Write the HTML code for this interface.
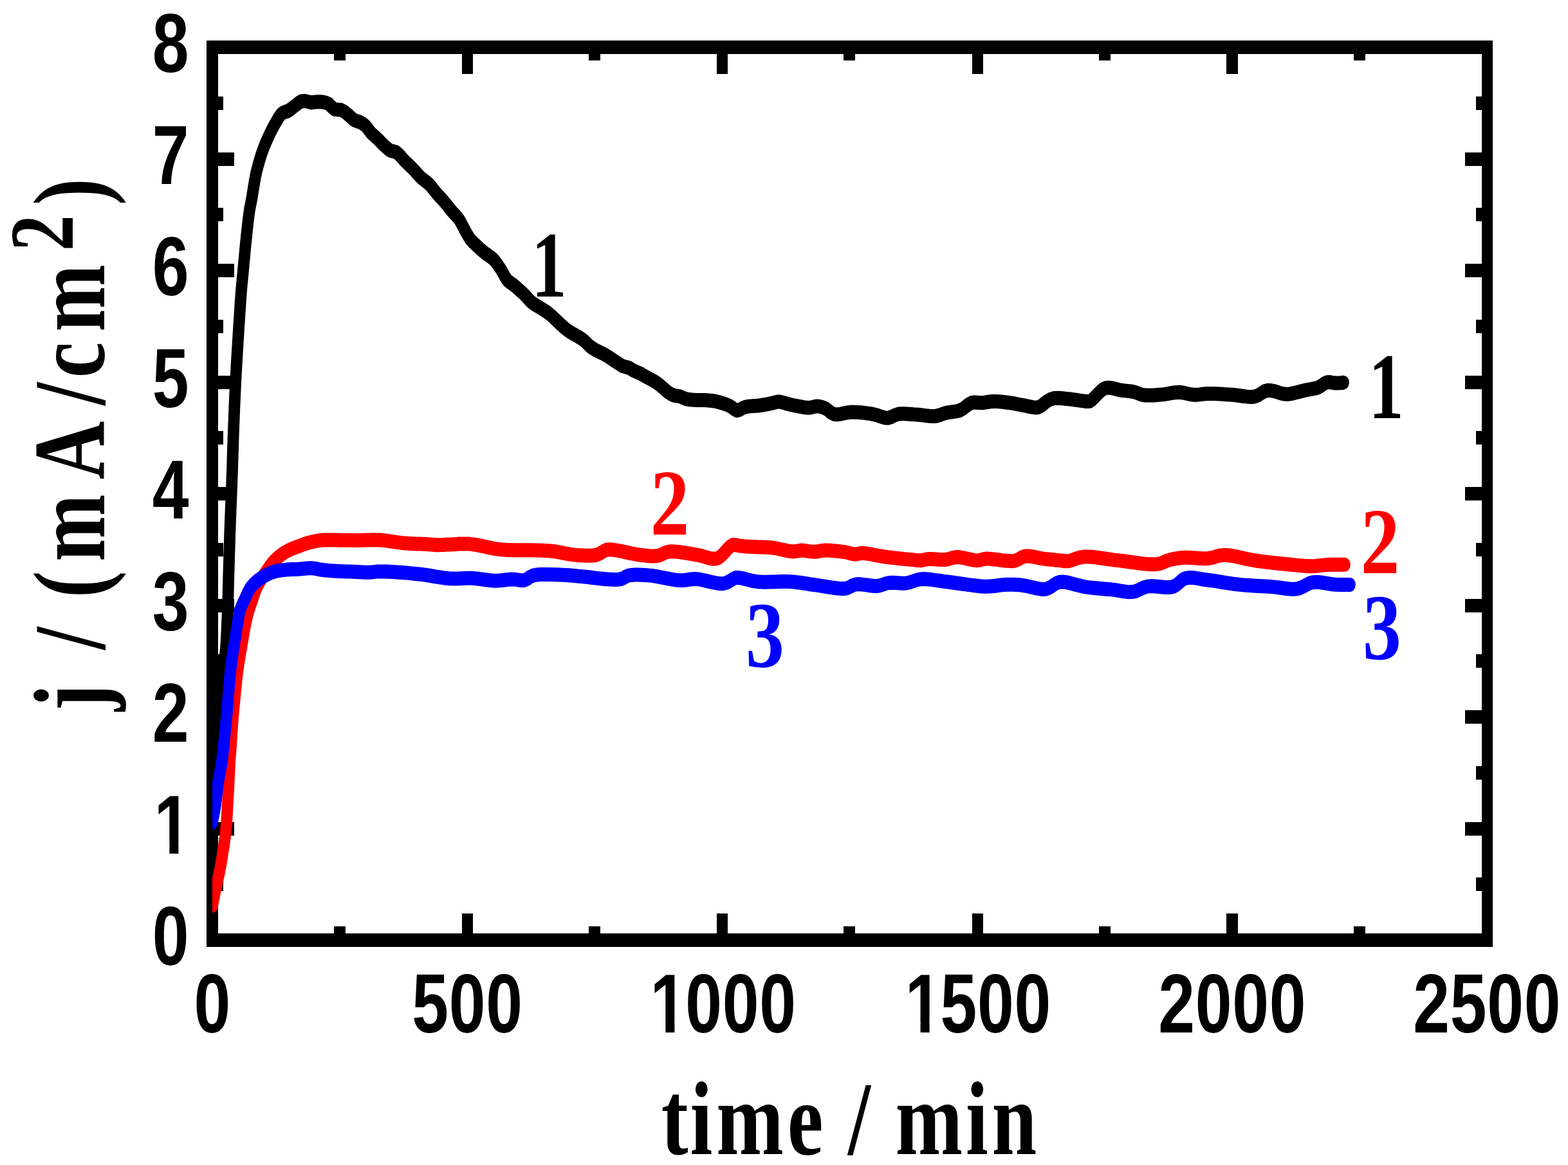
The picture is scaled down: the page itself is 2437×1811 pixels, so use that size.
<!DOCTYPE html>
<html lang="en"><head><meta charset="utf-8"><title>j vs time</title>
<style>html,body{margin:0;padding:0;background:#fff}svg{display:block}.tk{font-family:"Liberation Sans",Arial,Helvetica,sans-serif;font-weight:700;font-size:129.2px}.ax{font-family:"Liberation Serif","Times New Roman",Times,serif;font-weight:700;font-size:163px}.lb{font-family:"Liberation Serif","Times New Roman",Times,serif;font-size:146px}.b{font-weight:700}</style></head><body>
<svg width="2437" height="1811" viewBox="0 0 2437 1811">
<rect width="2437" height="1811" fill="#fff"/>
<g fill="#000" shape-rendering="crispEdges">
<rect x="321" y="63" width="18" height="1409"/>
<rect x="2303" y="63" width="17" height="1409"/>
<rect x="321" y="63" width="1999" height="21"/>
<rect x="321" y="1451" width="1999" height="21"/>
<rect x="519" y="84" width="18" height="10"/>
<rect x="519" y="1440" width="18" height="11"/>
<rect x="718" y="84" width="17" height="31"/>
<rect x="718" y="1420" width="17" height="31"/>
<rect x="915" y="84" width="18" height="10"/>
<rect x="915" y="1440" width="18" height="11"/>
<rect x="1114" y="84" width="17" height="31"/>
<rect x="1114" y="1420" width="17" height="31"/>
<rect x="1311" y="84" width="18" height="10"/>
<rect x="1311" y="1440" width="18" height="11"/>
<rect x="1511" y="84" width="17" height="31"/>
<rect x="1511" y="1420" width="17" height="31"/>
<rect x="1708" y="84" width="18" height="10"/>
<rect x="1708" y="1440" width="18" height="11"/>
<rect x="1906" y="84" width="18" height="31"/>
<rect x="1906" y="1420" width="18" height="31"/>
<rect x="2104" y="84" width="18" height="10"/>
<rect x="2104" y="1440" width="18" height="11"/>
<rect x="339" y="1364" width="8" height="21"/>
<rect x="2294" y="1364" width="9" height="21"/>
<rect x="339" y="1278" width="25" height="21"/>
<rect x="2277" y="1278" width="26" height="21"/>
<rect x="339" y="1191" width="8" height="21"/>
<rect x="2294" y="1191" width="9" height="21"/>
<rect x="339" y="1104" width="25" height="21"/>
<rect x="2277" y="1104" width="26" height="21"/>
<rect x="339" y="1017" width="8" height="21"/>
<rect x="2294" y="1017" width="9" height="21"/>
<rect x="339" y="931" width="25" height="21"/>
<rect x="2277" y="931" width="26" height="21"/>
<rect x="339" y="844" width="8" height="21"/>
<rect x="2294" y="844" width="9" height="21"/>
<rect x="339" y="757" width="25" height="21"/>
<rect x="2277" y="757" width="26" height="21"/>
<rect x="339" y="670" width="8" height="21"/>
<rect x="2294" y="670" width="9" height="21"/>
<rect x="339" y="584" width="25" height="21"/>
<rect x="2277" y="584" width="26" height="21"/>
<rect x="339" y="497" width="8" height="21"/>
<rect x="2294" y="497" width="9" height="21"/>
<rect x="339" y="410" width="25" height="21"/>
<rect x="2277" y="410" width="26" height="21"/>
<rect x="339" y="323" width="8" height="21"/>
<rect x="2294" y="323" width="9" height="21"/>
<rect x="339" y="237" width="25" height="21"/>
<rect x="2277" y="237" width="26" height="21"/>
<rect x="339" y="150" width="8" height="21"/>
<rect x="2294" y="150" width="9" height="21"/>
</g>
<defs><clipPath id="pc"><rect x="330" y="74" width="1981" height="1388"/></clipPath></defs>
<g clip-path="url(#pc)"><g transform="scale(0.80909,1)" fill="none" stroke-width="22" stroke-linejoin="round" stroke-linecap="round">
<polyline points="402.9,1300.0 403.1,1298.8 403.6,1295.5 404.4,1290.7 405.2,1284.7 406.2,1278.2 407.1,1271.4 407.9,1265.0 408.3,1261.0 408.7,1256.6 409.2,1252.1 409.6,1247.4 410.0,1242.5 410.5,1237.4 410.9,1232.2 411.3,1226.9 411.8,1221.6 412.2,1216.2 412.6,1210.8 413.0,1205.5 413.5,1200.2 413.9,1194.9 414.4,1189.8 414.8,1184.8 415.3,1180.0 415.8,1174.8 416.3,1169.6 416.9,1164.4 417.4,1159.2 418.0,1154.1 418.5,1149.0 419.1,1143.9 419.6,1138.9 420.2,1134.0 420.7,1129.2 421.2,1124.5 421.7,1119.9 422.2,1115.4 422.7,1111.0 423.3,1105.3 423.9,1099.9 424.5,1094.6 425.0,1089.4 425.6,1084.4 426.1,1079.6 426.6,1074.7 427.0,1070.0 427.5,1064.7 427.9,1059.5 428.3,1054.5 428.6,1049.5 429.0,1044.7 429.5,1040.0 430.1,1035.1 430.7,1030.3 431.4,1025.6 432.0,1021.1 432.6,1017.0 433.1,1012.7 433.6,1008.9 434.1,1004.0 434.4,1000.5 434.7,996.4 435.0,991.9 435.3,987.0 435.6,981.8 435.9,976.5 436.2,971.0 436.5,965.5 436.8,960.1 437.0,954.8 437.3,949.7 437.5,944.8 437.7,939.9 437.9,935.1 438.0,930.3 438.2,925.4 438.3,920.6 438.5,915.7 438.6,910.7 438.8,905.7 439.0,900.5 439.1,895.3 439.3,890.8 439.5,886.1 439.6,881.4 439.8,876.7 440.0,871.8 440.1,867.0 440.3,862.1 440.5,857.1 440.7,852.2 440.9,847.2 441.1,842.3 441.3,837.3 441.4,832.4 441.6,827.5 441.9,822.6 442.1,817.8 442.3,813.0 442.5,808.1 442.7,803.4 443.0,798.6 443.2,793.8 443.4,789.0 443.7,784.2 443.9,779.4 444.2,774.5 444.4,769.7 444.6,764.8 444.9,759.9 445.1,755.0 445.3,750.0 445.5,745.0 445.7,739.9 446.0,734.8 446.2,729.7 446.4,724.5 446.6,719.4 446.8,714.2 447.0,708.9 447.2,703.7 447.4,698.5 447.6,693.4 447.8,688.2 448.0,683.1 448.2,678.0 448.4,672.9 448.7,667.9 448.9,662.9 449.1,658.0 449.4,653.1 449.6,648.2 449.8,643.4 450.1,638.5 450.3,633.7 450.6,628.9 450.8,624.1 451.1,619.3 451.3,614.5 451.6,609.7 451.9,604.9 452.2,600.1 452.5,595.3 452.8,590.5 453.1,585.6 453.4,580.8 453.7,575.9 454.1,571.1 454.4,566.2 454.8,561.4 455.1,556.5 455.5,551.7 455.8,546.8 456.2,542.0 456.6,537.1 456.9,532.3 457.3,527.4 457.7,522.6 458.1,517.7 458.4,512.7 458.8,507.6 459.2,502.5 459.7,497.3 460.1,492.2 460.5,487.0 460.9,481.9 461.3,476.9 461.7,472.0 462.1,467.3 462.5,462.7 462.9,458.2 463.3,454.0 463.7,450.0 464.4,443.9 465.0,438.5 465.6,433.4 466.2,428.4 466.8,423.2 467.4,417.7 468.0,413.0 468.5,408.1 469.1,403.2 469.7,398.1 470.3,393.0 470.9,387.8 471.5,382.6 472.1,377.5 472.8,372.4 473.4,367.2 474.1,361.9 474.8,356.5 475.6,351.0 476.3,345.7 477.1,340.5 477.8,335.6 478.6,331.1 479.3,327.0 480.3,322.2 481.3,318.3 482.3,314.3 483.4,309.7 484.3,305.6 485.2,300.9 486.2,295.9 487.2,290.7 488.3,285.5 489.3,280.5 490.4,275.8 491.4,271.6 492.8,266.5 494.3,261.9 495.7,257.5 497.2,253.1 498.7,248.9 500.2,244.8 501.8,240.6 503.7,236.2 505.5,232.2 507.5,227.9 509.7,223.5 512.0,219.1 514.4,214.8 516.8,210.6 519.5,206.0 522.3,201.4 525.2,197.0 528.1,192.7 531.0,188.8 534.6,183.8 538.3,179.3 542.3,175.8 547.5,174.0 553.1,172.5 558.3,169.7 563.7,166.3 568.7,163.2 573.8,159.9 578.7,157.5 586.1,157.0 592.5,158.2 598.9,159.4 606.4,158.4 612.9,158.2 619.8,158.6 625.7,159.6 631.2,161.4 636.5,165.7 642.0,169.7 648.3,170.4 654.8,170.8 660.6,173.2 666.2,176.6 671.1,180.0 676.1,183.9 681.0,186.9 686.5,188.5 691.8,189.9 697.4,192.5 702.6,195.9 706.9,200.3 711.3,205.2 716.2,209.2 721.7,213.2 726.9,217.1 730.8,220.3 734.4,223.4 738.2,226.4 742.2,229.3 746.2,232.1 750.3,234.2 755.6,235.2 761.0,236.5 765.2,239.2 769.5,242.8 773.8,246.9 778.0,250.6 783.2,254.6 788.2,258.5 793.2,262.5 797.0,265.8 800.7,269.2 804.4,272.6 808.3,275.8 812.5,278.7 816.8,281.4 821.1,284.1 825.1,287.0 829.8,291.3 834.1,295.8 838.6,300.3 842.3,303.7 846.2,307.1 850.1,310.6 853.8,314.0 858.4,318.5 862.8,323.1 867.3,327.6 872.1,331.9 877.0,336.1 881.5,340.5 885.1,345.3 888.3,350.4 891.6,355.5 894.4,359.6 897.3,363.9 900.3,368.0 903.5,371.8 907.7,375.7 912.2,379.2 916.8,382.7 921.5,386.2 926.2,389.6 931.2,393.0 936.8,396.3 942.5,399.5 948.0,403.2 951.9,406.7 955.5,410.6 958.9,414.7 962.3,418.8 965.5,423.2 968.6,427.9 971.6,432.3 974.9,435.9 980.1,439.3 985.9,442.5 990.0,445.2 994.5,448.4 999.1,451.8 1003.7,455.2 1007.8,458.4 1012.6,462.6 1017.0,466.6 1021.3,470.0 1026.4,472.9 1031.4,475.4 1036.3,477.7 1041.4,480.2 1045.8,482.5 1050.4,485.0 1054.9,487.7 1059.4,490.8 1063.9,494.2 1068.4,497.6 1072.8,501.0 1077.3,504.5 1081.8,507.8 1086.3,510.8 1090.8,513.7 1095.3,516.3 1101.2,519.0 1107.2,521.7 1112.2,524.1 1117.5,526.8 1122.2,529.6 1127.4,533.7 1132.4,537.8 1138.1,541.2 1144.1,544.2 1150.8,546.8 1157.6,549.4 1162.2,551.4 1166.7,553.6 1171.1,555.8 1176.9,559.0 1182.8,562.3 1187.2,564.7 1191.8,567.1 1196.3,569.1 1202.4,570.5 1208.1,571.8 1212.3,573.8 1216.6,575.9 1223.4,578.3 1230.0,580.6 1236.7,583.7 1243.3,586.7 1250.2,589.8 1255.3,592.0 1260.3,594.3 1266.2,597.9 1272.0,601.8 1276.0,604.6 1279.9,607.5 1283.8,610.0 1288.8,612.6 1293.9,614.6 1299.7,615.4 1305.7,616.1 1311.4,618.1 1317.5,620.2 1323.1,621.0 1329.1,621.5 1334.8,621.8 1341.1,621.9 1347.7,621.9 1352.6,622.1 1358.1,622.3 1364.0,622.7 1369.9,623.2 1375.6,624.0 1381.5,625.2 1387.6,626.7 1393.5,628.3 1399.1,630.1 1403.8,631.9 1409.6,635.6 1415.0,638.2 1420.2,637.2 1425.7,634.7 1431.9,632.6 1437.0,631.8 1442.5,631.4 1448.3,631.1 1454.2,630.8 1459.9,630.3 1465.9,629.5 1472.1,628.6 1478.2,627.6 1483.6,626.6 1488.0,625.8 1494.3,624.4 1498.9,624.8 1504.8,625.9 1511.5,627.5 1518.3,629.0 1524.8,630.2 1531.1,631.2 1537.6,632.2 1544.0,633.1 1550.1,633.7 1555.4,633.8 1562.6,632.5 1569.3,631.4 1574.8,631.9 1580.4,633.2 1586.0,635.0 1591.3,638.0 1596.6,641.6 1602.7,644.0 1608.4,644.3 1614.9,643.6 1621.8,642.3 1628.9,641.2 1636.0,640.6 1641.8,640.7 1647.8,640.9 1654.0,641.3 1660.2,641.9 1666.3,642.5 1672.2,643.2 1677.7,644.0 1683.7,645.2 1689.6,646.8 1695.1,648.4 1700.5,649.5 1705.6,649.8 1712.1,648.3 1718.2,645.7 1725.0,643.7 1730.4,643.2 1736.2,643.2 1742.4,643.4 1748.7,643.8 1755.1,644.3 1761.2,644.6 1767.4,645.0 1773.6,645.6 1779.9,646.3 1786.0,646.8 1791.8,647.1 1797.1,646.9 1804.0,645.6 1810.2,643.7 1816.9,641.9 1822.1,641.1 1827.8,640.5 1833.6,639.9 1839.2,639.0 1844.5,637.7 1850.4,635.0 1855.9,631.5 1861.3,628.2 1866.8,626.0 1873.1,625.5 1879.5,625.9 1886.1,626.2 1891.4,625.7 1896.8,625.0 1902.4,624.3 1908.3,624.0 1914.6,624.1 1921.3,624.4 1928.2,625.0 1935.1,625.7 1941.7,626.4 1947.5,627.2 1953.1,628.1 1958.7,629.0 1964.2,629.9 1969.6,630.7 1976.1,631.8 1982.6,632.9 1988.8,633.6 1994.6,633.2 2000.6,630.7 2005.9,627.0 2011.3,623.7 2017.9,620.8 2025.2,619.0 2031.4,618.7 2038.4,619.0 2045.8,619.7 2052.9,620.3 2058.7,620.8 2064.6,621.5 2070.5,622.2 2076.0,622.9 2080.9,623.3 2087.1,624.1 2093.1,623.7 2097.5,621.6 2102.3,617.9 2107.4,613.5 2112.7,609.1 2118.1,605.4 2123.6,603.2 2129.6,602.6 2135.8,603.2 2142.1,604.4 2148.3,605.8 2154.3,606.8 2160.8,607.4 2167.1,607.9 2173.2,608.5 2179.0,609.3 2184.7,610.8 2189.9,612.7 2195.9,614.0 2201.8,614.5 2208.4,614.6 2215.3,614.4 2222.4,614.0 2229.3,613.6 2235.3,613.1 2241.4,612.3 2247.6,611.4 2253.8,610.5 2259.7,610.0 2265.5,609.8 2271.3,610.3 2276.8,611.2 2282.3,612.3 2287.7,613.3 2293.2,613.8 2298.6,613.8 2304.0,613.4 2309.4,612.8 2315.1,612.3 2321.1,612.0 2326.4,612.0 2332.1,612.1 2338.0,612.3 2344.0,612.5 2350.1,612.8 2356.2,613.2 2362.3,613.5 2368.1,613.8 2374.3,614.3 2380.6,615.0 2386.9,615.7 2393.1,616.4 2399.1,616.9 2404.8,617.0 2410.1,616.5 2416.7,614.5 2422.6,611.5 2428.4,608.5 2434.8,606.8 2440.4,606.9 2446.3,607.8 2452.5,609.3 2458.8,610.9 2465.0,612.2 2471.2,612.7 2477.3,612.4 2483.5,611.5 2489.6,610.3 2495.7,609.0 2501.6,607.7 2507.3,606.6 2514.0,605.6 2520.5,604.7 2526.6,603.7 2532.3,602.3 2538.2,599.5 2543.6,596.3 2549.0,594.2 2554.5,594.1 2560.2,595.0 2565.7,595.6 2575.1,595.2 2580.7,594.7" stroke="#000"/>
<polyline points="407.9,1408.0 408.7,1404.4 410.3,1398.0 411.3,1393.8 412.4,1389.2 413.6,1384.4 414.8,1379.7 416.0,1375.3 417.3,1371.0 418.6,1366.5 420.0,1361.5 421.1,1357.0 422.3,1352.0 423.5,1346.8 424.7,1341.4 425.8,1335.9 427.0,1330.5 428.0,1325.2 429.0,1320.0 430.0,1314.9 430.9,1309.7 431.8,1304.5 432.6,1299.4 433.4,1294.2 434.1,1289.0 434.7,1283.8 435.2,1278.6 435.6,1273.4 436.0,1268.2 436.3,1263.0 436.7,1257.8 437.0,1252.6 437.4,1247.4 437.8,1242.2 438.1,1237.0 438.5,1231.9 438.8,1226.7 439.2,1221.5 439.5,1216.3 439.8,1211.0 440.2,1205.4 440.5,1199.8 440.8,1194.4 441.1,1189.1 441.4,1184.3 441.7,1180.0 442.2,1175.3 442.6,1171.2 443.1,1166.2 443.4,1162.6 443.8,1158.6 444.1,1154.1 444.5,1149.3 444.9,1144.3 445.4,1139.0 445.8,1133.6 446.3,1128.1 446.8,1122.5 447.4,1117.1 447.9,1111.7 448.4,1106.8 449.0,1101.8 449.6,1096.6 450.2,1091.3 450.8,1086.0 451.4,1080.6 452.1,1075.2 452.8,1069.8 453.5,1064.5 454.1,1059.4 454.8,1054.3 455.5,1049.5 456.2,1044.9 456.9,1040.5 457.9,1034.7 458.9,1029.2 460.0,1024.1 461.0,1019.1 462.1,1014.2 463.1,1009.3 464.2,1004.2 465.3,998.9 466.4,993.5 467.6,988.0 468.7,982.6 469.9,977.4 471.0,972.4 472.1,967.9 473.5,962.9 474.8,958.4 476.2,954.1 477.7,949.7 479.4,945.2 481.3,940.6 483.2,936.1 485.1,931.6 486.9,927.1 488.7,922.6 490.7,918.1 493.1,913.4 496.0,908.8 499.2,904.0 502.7,899.2 506.3,894.5 510.0,890.0 513.3,885.9 516.7,882.0 520.2,878.1 523.9,874.4 527.9,871.0 532.0,867.8 536.4,864.8 541.0,862.0 545.7,859.4 550.4,857.1 555.9,854.8 561.4,852.8 567.1,851.1 572.7,849.4 578.3,847.7 583.9,846.0 589.6,844.5 595.2,843.2 600.8,842.1 606.4,841.1 612.0,840.4 617.6,839.8 623.0,839.5 628.4,839.5 633.9,839.6 640.1,839.6 645.7,839.6 651.8,839.7 658.3,839.7 664.9,839.8 671.7,839.8 678.4,839.9 685.0,839.9 691.4,839.8 697.8,839.7 704.2,839.6 710.6,839.4 717.0,839.3 723.4,839.4 729.8,839.6 736.2,840.0 742.7,840.6 749.1,841.4 755.5,842.2 761.9,842.9 768.3,843.6 774.7,844.2 781.2,844.6 788.0,844.9 794.7,845.2 801.4,845.4 807.9,845.6 813.9,845.8 819.4,846.0 827.0,846.5 833.6,846.9 840.4,847.2 846.2,847.1 852.1,846.9 858.1,846.6 864.6,846.4 870.2,846.2 876.0,845.9 882.0,845.6 888.3,845.4 894.8,845.4 901.6,845.6 907.1,846.1 912.8,846.7 918.7,847.6 924.8,848.6 930.9,849.7 937.2,850.8 943.6,851.8 950.0,852.8 956.4,853.6 962.8,854.2 968.7,854.6 974.9,854.9 981.2,855.1 987.6,855.2 994.1,855.3 1000.6,855.3 1007.0,855.3 1013.2,855.3 1019.2,855.3 1024.8,855.3 1030.1,855.4 1035.0,855.5 1041.3,855.7 1046.8,855.9 1051.9,856.2 1057.1,856.5 1062.9,857.0 1068.8,857.7 1075.0,858.6 1081.4,859.6 1088.0,860.6 1094.6,861.6 1101.1,862.4 1107.4,862.9 1114.2,863.3 1121.1,863.6 1127.9,863.8 1134.5,863.7 1140.6,863.3 1146.2,862.5 1151.7,860.8 1156.4,858.4 1161.0,856.1 1165.8,854.6 1171.9,854.2 1178.1,854.8 1185.2,855.7 1190.6,856.4 1196.7,857.4 1203.3,858.6 1210.1,859.8 1216.9,860.9 1223.5,862.0 1229.7,862.7 1236.7,863.4 1243.7,864.0 1250.4,864.4 1256.9,864.4 1263.0,864.0 1268.7,862.7 1273.8,860.7 1279.1,858.7 1285.3,857.5 1290.4,857.3 1296.1,857.4 1302.3,857.9 1308.9,858.5 1315.6,859.4 1322.3,860.3 1328.9,861.2 1335.1,862.1 1340.9,862.9 1347.4,864.0 1353.7,865.6 1359.8,867.1 1365.7,868.3 1371.3,868.8 1376.9,868.3 1381.7,866.4 1386.4,863.3 1391.0,859.5 1395.4,855.5 1399.6,851.7 1403.7,848.7 1407.5,847.0 1414.3,847.2 1421.3,848.6 1426.7,849.0 1432.7,849.4 1439.2,849.7 1445.7,850.0 1452.0,850.3 1458.0,850.5 1464.0,850.6 1470.0,850.7 1476.1,850.9 1482.5,851.3 1488.3,852.0 1494.6,853.0 1501.1,854.2 1507.6,855.3 1513.7,856.4 1519.3,857.1 1524.2,857.4 1531.3,856.6 1538.1,855.6 1543.2,855.8 1548.9,856.4 1554.9,857.1 1560.7,857.6 1566.0,857.8 1571.6,857.2 1576.7,856.2 1582.6,855.6 1588.3,855.6 1594.8,855.8 1601.8,856.2 1608.8,856.7 1615.5,857.4 1621.6,858.0 1627.8,859.0 1633.6,860.2 1638.9,861.2 1643.8,861.6 1649.2,860.7 1654.9,859.8 1659.7,860.0 1665.3,860.6 1671.7,861.4 1678.5,862.5 1685.5,863.6 1692.6,864.6 1699.4,865.5 1705.5,866.1 1712.1,866.8 1718.9,867.4 1725.8,868.0 1732.5,868.6 1739.0,869.1 1745.1,869.6 1750.5,870.0 1755.1,870.4 1762.6,871.1 1768.9,871.3 1775.4,870.2 1782.7,869.0 1788.6,869.0 1795.4,869.3 1802.6,869.8 1809.7,870.1 1816.1,870.0 1821.9,869.1 1827.1,867.8 1832.5,866.6 1838.4,866.0 1844.4,866.3 1851.1,867.3 1858.2,868.6 1865.1,869.9 1871.6,870.9 1877.3,871.3 1883.0,870.6 1887.9,869.4 1894.0,868.6 1898.9,868.6 1904.7,869.0 1911.2,869.6 1918.1,870.3 1925.1,871.1 1932.1,871.7 1938.6,872.1 1944.6,872.2 1949.6,871.8 1956.6,869.6 1962.3,866.6 1968.9,864.6 1974.2,864.4 1980.1,864.8 1986.3,865.7 1992.6,866.8 1999.0,867.8 2005.1,868.6 2011.1,869.2 2017.2,869.7 2023.4,870.2 2029.2,870.7 2034.6,871.1 2039.3,871.5 2045.4,872.2 2051.3,872.3 2056.4,871.5 2062.0,869.9 2068.1,868.1 2074.8,866.5 2081.8,865.6 2087.3,865.4 2093.1,865.6 2099.2,865.9 2105.5,866.5 2112.1,867.2 2118.8,868.0 2125.7,868.8 2132.5,869.6 2139.4,870.4 2146.1,871.0 2152.4,871.6 2159.0,872.3 2165.8,873.0 2172.7,873.8 2179.7,874.6 2186.6,875.4 2193.4,876.1 2200.0,876.6 2206.3,877.1 2212.2,877.3 2217.6,877.3 2222.5,877.0 2229.6,875.8 2235.5,873.9 2241.0,871.9 2247.0,870.3 2252.2,869.3 2257.5,868.5 2262.9,867.8 2268.5,867.2 2274.5,866.8 2280.5,866.7 2287.0,866.9 2293.9,867.3 2300.8,867.7 2307.6,868.1 2314.2,868.2 2320.4,868.0 2326.8,867.2 2332.6,865.9 2338.3,864.5 2344.3,863.4 2351.0,862.9 2356.3,863.0 2361.9,863.5 2367.8,864.2 2373.9,865.2 2380.2,866.2 2386.6,867.4 2393.1,868.6 2399.5,869.7 2405.9,870.7 2412.1,871.5 2418.2,872.2 2424.4,872.9 2430.7,873.5 2437.0,874.1 2443.2,874.7 2449.4,875.2 2455.5,875.8 2461.6,876.3 2467.5,876.7 2473.3,877.2 2480.2,877.8 2487.1,878.4 2493.9,878.9 2500.5,879.4 2506.9,879.9 2513.1,880.1 2519.1,880.2 2525.6,880.0 2531.8,879.5 2537.7,878.9 2543.7,878.4 2549.8,878.0 2557.4,877.8 2566.2,877.7 2574.5,877.7 2580.7,877.7 2583.1,877.7" stroke="#f00"/>
<polyline points="407.9,1278.0 408.3,1276.2 409.4,1271.7 410.9,1265.5 412.4,1258.8 413.7,1252.6 414.5,1247.8 415.3,1242.7 416.1,1237.5 416.8,1232.2 417.5,1226.9 418.3,1221.5 419.2,1216.3 420.3,1211.0 421.4,1205.4 422.7,1199.8 423.9,1194.4 425.1,1189.1 426.1,1184.3 426.9,1180.0 427.6,1175.3 428.1,1171.2 428.8,1166.2 429.2,1162.6 429.7,1158.6 430.3,1154.1 430.9,1149.3 431.6,1144.3 432.2,1139.0 432.9,1133.6 433.6,1128.1 434.3,1122.5 434.9,1117.1 435.6,1111.7 436.1,1106.9 436.6,1101.8 437.2,1096.6 437.7,1091.4 438.2,1086.0 438.7,1080.6 439.2,1075.2 439.8,1069.8 440.3,1064.6 440.8,1059.4 441.4,1054.3 441.9,1049.5 442.5,1044.9 443.1,1040.5 443.9,1034.7 444.8,1029.2 445.7,1024.1 446.6,1019.1 447.5,1014.2 448.4,1009.3 449.4,1004.2 450.4,998.9 451.4,993.5 452.5,988.0 453.6,982.6 454.6,977.4 455.6,972.4 456.6,967.9 457.5,962.9 458.3,958.4 459.2,954.1 460.5,949.7 462.4,945.1 464.8,940.6 467.3,936.1 470.0,931.6 472.3,927.6 474.6,923.4 477.0,919.3 479.8,915.3 483.0,911.6 486.9,908.1 491.2,904.9 495.8,901.8 500.6,899.0 505.4,896.5 510.9,894.0 516.5,891.8 522.1,889.9 527.9,888.4 533.4,887.3 539.1,886.6 544.7,886.1 550.4,885.6 555.9,885.3 561.4,885.1 567.0,884.9 572.7,884.7 579.4,884.3 586.4,883.7 593.3,883.3 599.7,883.3 605.9,883.9 611.6,884.9 617.6,885.8 622.9,886.3 628.2,886.7 633.9,887.1 640.1,887.4 645.8,887.7 652.2,887.9 659.1,888.2 666.0,888.4 672.8,888.6 679.2,888.8 685.0,889.0 691.1,889.3 696.7,889.6 702.0,889.8 707.5,889.8 712.9,889.6 718.2,889.1 723.7,888.6 729.8,888.4 735.4,888.4 741.5,888.5 748.0,888.8 754.7,889.1 761.4,889.4 768.2,889.8 774.7,890.2 781.3,890.6 788.0,891.1 794.8,891.7 801.5,892.2 808.0,892.8 814.0,893.4 819.6,894.0 827.0,895.0 833.6,896.0 840.4,896.9 845.7,897.5 851.1,898.2 856.7,898.8 862.4,899.3 868.3,899.6 873.9,899.6 879.8,899.5 885.7,899.2 891.8,898.9 898.0,898.7 904.3,898.7 910.0,899.0 915.9,899.5 922.0,900.1 928.1,900.8 934.3,901.5 940.3,902.1 946.1,902.5 951.7,902.7 958.8,902.5 965.8,902.0 972.5,901.3 978.9,900.7 985.1,900.5 991.0,900.9 996.7,901.7 1002.2,902.3 1007.3,902.0 1012.7,900.0 1017.7,897.0 1023.9,894.6 1028.8,893.8 1034.4,893.3 1040.7,893.0 1047.3,892.9 1054.1,893.0 1060.9,893.2 1067.6,893.3 1073.9,893.5 1080.4,893.7 1086.8,894.0 1093.0,894.3 1099.3,894.8 1105.6,895.2 1111.9,895.7 1118.4,896.2 1124.7,896.7 1131.1,897.3 1137.7,898.0 1144.3,898.6 1150.8,899.3 1157.1,899.8 1163.0,900.2 1168.5,900.5 1175.5,900.7 1182.0,900.9 1188.0,900.7 1193.4,900.0 1198.2,898.4 1202.3,896.3 1207.4,894.6 1212.6,893.9 1218.5,893.6 1225.1,893.5 1232.0,893.7 1239.1,894.0 1246.3,894.4 1252.0,894.9 1258.1,895.6 1264.4,896.5 1271.0,897.6 1277.6,898.6 1284.1,899.7 1290.5,900.6 1296.6,901.4 1302.3,902.0 1307.5,902.3 1313.6,902.1 1319.0,901.5 1324.0,900.8 1329.3,900.2 1335.3,900.0 1340.8,900.4 1346.9,901.2 1353.4,902.4 1360.2,903.6 1366.9,904.9 1373.6,906.0 1379.9,906.9 1385.7,907.2 1390.8,907.0 1397.4,905.2 1403.3,902.4 1408.5,899.7 1413.1,898.0 1421.3,898.3 1425.5,898.9 1430.4,899.9 1435.9,901.1 1441.9,902.3 1448.2,903.4 1454.7,904.2 1460.3,904.6 1466.4,904.7 1472.8,904.7 1479.4,904.6 1486.2,904.4 1493.0,904.2 1499.8,904.0 1506.4,904.0 1512.7,904.0 1518.6,904.2 1525.0,904.6 1531.0,905.2 1536.8,905.8 1542.6,906.5 1548.3,907.2 1554.2,908.0 1560.4,908.7 1566.4,909.4 1573.0,910.2 1579.9,911.1 1586.8,912.0 1593.7,912.9 1600.2,913.7 1606.2,914.3 1611.5,914.8 1615.9,915.0 1621.9,915.0 1627.0,914.3 1632.1,912.5 1637.5,910.1 1643.8,908.4 1648.9,908.1 1654.7,908.4 1661.0,909.1 1667.5,909.8 1674.0,910.5 1680.1,911.0 1685.5,910.9 1691.4,910.0 1696.7,908.5 1702.0,907.0 1707.7,906.0 1714.0,905.8 1720.7,906.0 1727.7,906.4 1734.5,906.7 1741.1,906.4 1746.8,905.5 1752.1,904.0 1757.5,902.5 1763.0,901.1 1768.9,900.3 1774.3,900.1 1780.0,900.3 1785.8,900.8 1791.8,901.4 1798.0,902.1 1804.2,902.8 1810.6,903.5 1816.5,904.1 1822.7,904.8 1829.2,905.5 1835.8,906.2 1842.3,907.0 1848.7,907.7 1854.9,908.4 1860.8,909.1 1866.2,909.6 1872.2,910.2 1877.7,910.8 1882.9,911.3 1888.2,911.7 1894.0,911.8 1899.6,911.6 1905.5,911.2 1911.7,910.7 1917.9,910.0 1924.1,909.4 1930.0,908.9 1935.6,908.7 1941.5,908.7 1946.9,908.7 1952.2,908.9 1957.6,909.3 1963.4,909.8 1969.2,910.5 1975.6,911.6 1982.3,912.9 1988.9,914.1 1995.1,915.2 2000.6,915.9 2005.1,916.1 2010.1,915.5 2014.6,914.1 2019.2,912.0 2024.1,909.1 2029.7,906.4 2036.0,904.7 2041.1,904.5 2046.7,905.0 2052.7,905.9 2059.1,907.2 2065.6,908.7 2072.2,910.1 2078.7,911.4 2085.1,912.4 2091.5,913.1 2098.1,913.7 2104.7,914.3 2111.3,914.8 2117.9,915.2 2124.4,915.7 2130.8,916.1 2137.0,916.6 2144.0,917.3 2150.8,918.3 2157.6,919.2 2164.1,919.9 2170.4,920.3 2176.5,920.0 2182.3,918.9 2187.6,917.0 2192.8,914.9 2198.2,913.0 2204.2,911.6 2209.7,911.2 2215.8,911.3 2222.3,911.7 2229.0,912.3 2235.6,912.8 2241.9,913.1 2247.9,912.9 2253.1,912.1 2258.6,910.0 2263.3,907.0 2267.7,903.7 2272.3,900.7 2277.6,898.8 2282.9,898.1 2288.6,898.0 2294.5,898.4 2300.8,899.2 2307.2,900.1 2313.8,901.0 2320.4,901.7 2326.1,902.3 2331.9,902.9 2337.9,903.7 2344.1,904.5 2350.3,905.3 2356.6,906.1 2362.9,906.9 2369.1,907.7 2375.4,908.3 2381.6,908.9 2387.7,909.4 2393.9,909.8 2400.1,910.1 2406.3,910.4 2412.6,910.7 2418.8,911.0 2424.9,911.2 2430.9,911.5 2436.9,911.8 2442.7,912.1 2449.2,912.6 2455.7,913.3 2462.1,914.0 2468.4,914.7 2474.5,915.3 2480.5,915.7 2486.2,915.7 2491.7,915.3 2498.2,913.8 2504.2,911.5 2510.0,908.9 2515.8,906.6 2522.2,905.2 2528.0,904.9 2534.1,905.1 2540.4,905.8 2546.8,906.6 2553.2,907.5 2559.3,908.2 2565.0,908.7 2571.9,908.9 2579.3,909.0 2586.1,909.0 2591.1,908.9 2593.0,908.9" stroke="#00f"/>
</g></g>
<text class="tk" transform="translate(301.62,1605.0) scale(0.7900,1)" x="0.00">0</text>
<text class="tk" transform="translate(640.32,1605.0) scale(0.7900,1)" x="0.00 72.78 145.57">500</text>
<text class="tk" transform="translate(1010.57,1605.0) scale(0.7900,1)" x="0.00 69.24 142.03 214.81">1000</text>
<text class="tk" transform="translate(1406.77,1605.0) scale(0.7900,1)" x="0.00 69.24 142.03 214.81">1500</text>
<text class="tk" transform="translate(1800.17,1605.0) scale(0.7900,1)" x="0.00 72.78 145.57 218.35">2000</text>
<text class="tk" transform="translate(2196.37,1605.0) scale(0.7900,1)" x="0.00 72.78 145.57 218.35">2500</text>
<text class="tk" transform="translate(236.77,1500.0) scale(0.7900,1)" x="0.00">0</text>
<text class="tk" transform="translate(239.57,1326.5) scale(0.7900,1)" x="0.00">1</text>
<text class="tk" transform="translate(236.77,1153.0) scale(0.7900,1)" x="0.00">2</text>
<text class="tk" transform="translate(236.77,979.5) scale(0.7900,1)" x="0.00">3</text>
<text class="tk" transform="translate(236.77,806.0) scale(0.7900,1)" x="0.00">4</text>
<text class="tk" transform="translate(236.77,632.5) scale(0.7900,1)" x="0.00">5</text>
<text class="tk" transform="translate(236.77,459.0) scale(0.7900,1)" x="0.00">6</text>
<text class="tk" transform="translate(236.77,285.5) scale(0.7900,1)" x="0.00">7</text>
<text class="tk" transform="translate(236.77,112.0) scale(0.7900,1)" x="0.00">8</text>
<g fill="#fff"><rect x="1013.6" y="1590.3" width="20.8" height="16.7"/><rect x="1048.4" y="1590.3" width="19.3" height="16.7"/><rect x="1409.8" y="1590.3" width="20.8" height="16.7"/><rect x="1444.6" y="1590.3" width="19.3" height="16.7"/><rect x="242.6" y="1311.8" width="20.8" height="16.7"/><rect x="277.4" y="1311.8" width="19.3" height="16.7"/></g>
<text class="ax" transform="translate(1027.7,1794) scale(0.7700,1)" x="0.0 58.3 111.0 254.5 327.7 377.0 425.1 472.6 614.7 667.4">time / min</text>
<text class="ax" transform="translate(161.5,1110) rotate(-90) scale(0.7700,0.97)" x="5.7 64.9 130.2 194.8 234.9 308.1 473.7 623.7 678.9 772.2 934.7 1027.3">j / (mA/cm<tspan dy="-50" font-size="146">2</tspan><tspan dy="50">)</tspan></text>
<text class="lb b" fill="#000" transform="translate(826.3,461.2) scale(0.7450,1)">1</text>
<text class="lb b" fill="#000" transform="translate(2127.3,649.6) scale(0.7450,1)">1</text>
<text class="lb b" fill="#f00" transform="translate(1010.7,831.2) scale(0.8300,1)">2</text>
<text class="lb b" fill="#f00" transform="translate(2114.8,890.8) scale(0.8300,1)">2</text>
<text class="lb b" fill="#00f" transform="translate(1159.0,1036.5) scale(0.8200,1)">3</text>
<text class="lb b" fill="#00f" transform="translate(2117.9,1024.8) scale(0.8200,1)">3</text>
</svg></body></html>
